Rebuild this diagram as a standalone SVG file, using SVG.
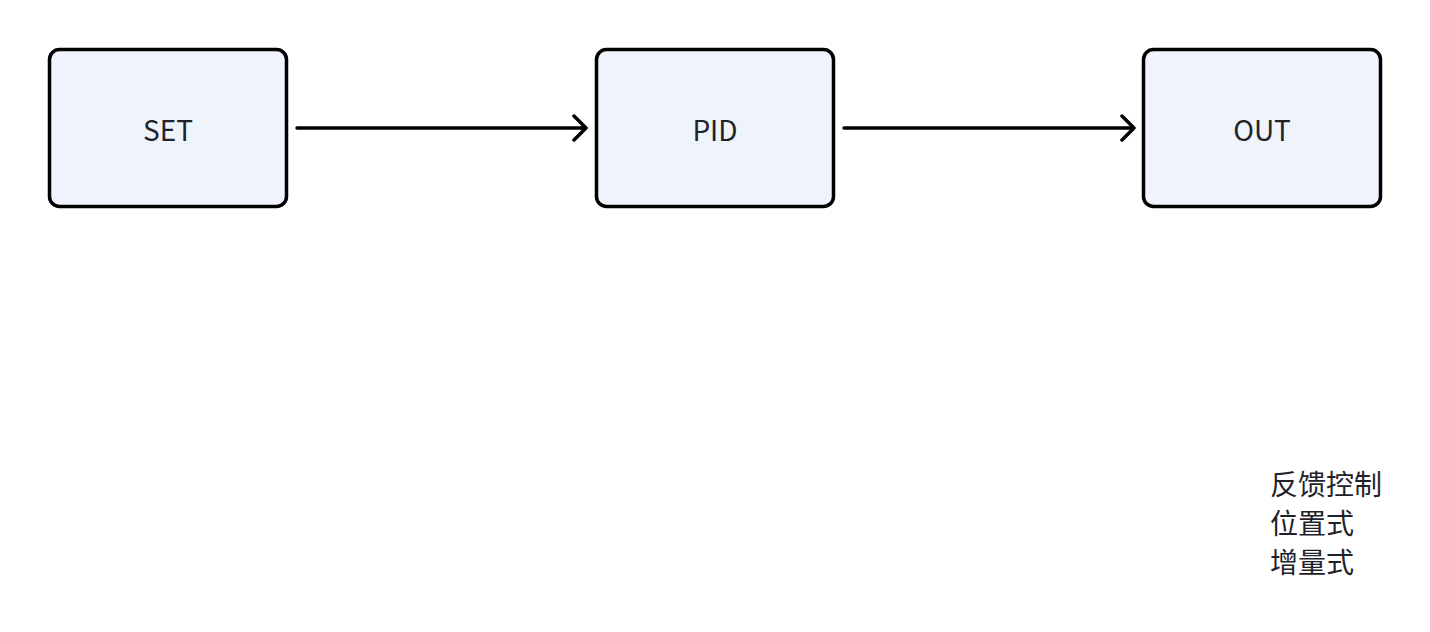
<svg xmlns="http://www.w3.org/2000/svg" width="1430" height="632" viewBox="0 0 1430 632">
<style>
.node rect{fill:#EFF4FC;stroke:#000;stroke-width:3.5}
.lbl{font-family:"Noto Sans CJK SC","Noto Sans",sans-serif;font-size:28px;fill:#1F2329;text-anchor:middle;dominant-baseline:central}
.note{font-family:"Noto Sans CJK SC",sans-serif;font-size:28px;fill:#1F2329}
.edge{stroke:#000;stroke-width:3.5;fill:none;stroke-linecap:round;stroke-linejoin:round}
</style>
<rect width="1430" height="632" fill="#fff"/>
<g id="node-set" class="node"><rect x="49.5" y="49.5" width="237" height="157" rx="10"/><text class="lbl" x="168" y="129">SET</text></g>
<g id="node-pid" class="node"><rect x="596.5" y="49.5" width="237" height="157" rx="10"/><text class="lbl" x="715" y="129">PID</text></g>
<g id="node-out" class="node"><rect x="1143.5" y="49.5" width="237" height="157" rx="10"/><text class="lbl" x="1262" y="129">OUT</text></g>
<g id="connectors">
<path class="edge" d="M297 128H586M574 116L586 128L574 140"/>
<path class="edge" d="M844 128H1134M1122 116L1134 128L1122 140"/>
</g>
<g id="note">
<text class="note" x="1270" y="495">反馈控制</text>
<text class="note" x="1270" y="534">位置式</text>
<text class="note" x="1270" y="573">增量式</text>
</g>
</svg>
